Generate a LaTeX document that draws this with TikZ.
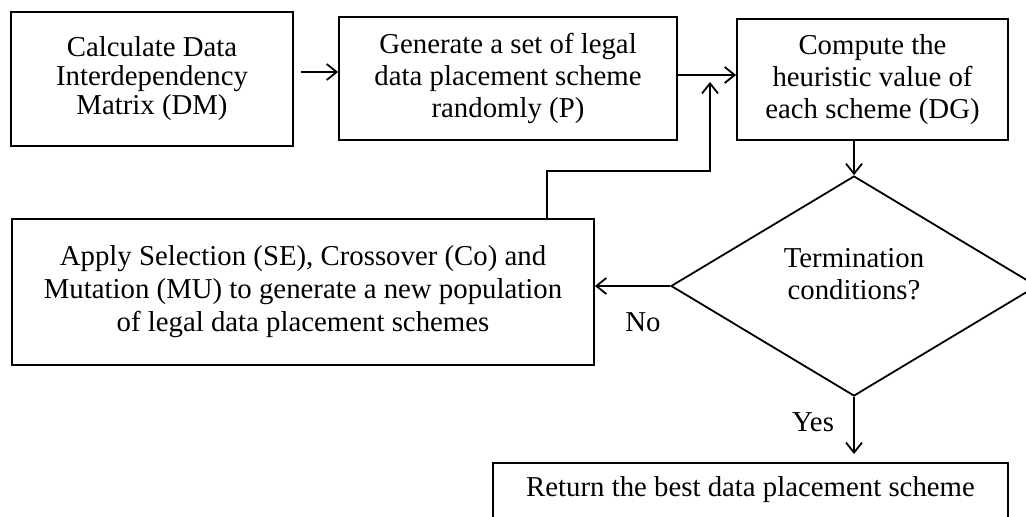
\documentclass[tikz,border=0pt]{standalone}
\usepackage{fontspec}
\setmainfont{Liberation Serif}
\usetikzlibrary{arrows.meta,shapes.geometric}
\begin{document}
\begin{tikzpicture}[x=0.5pt,y=-0.5pt,
  box/.style={draw, line width=0.9pt, align=center, inner sep=0pt,
              font=\fontsize{14.4}{16}\selectfont},
  cond/.style={draw, line width=0.9pt, diamond, inner sep=0pt},
  lbl/.style={font=\fontsize{14.4}{16}\selectfont, inner sep=0pt},
  arr/.style={-{Straight Barb[length=5pt,width=8pt]}, line width=0.9pt}]
\useasboundingbox (0,0) rectangle (1026,516);
\clip (0,0) rectangle (1026,516);

\node[box, minimum width=141pt, minimum height=67pt, font=\fontsize{14.4}{14.5}\selectfont] (b1) at (152,79)
  {Calculate Data\\Interdependency\\Matrix (DM)};
\node[box, minimum width=169pt, minimum height=61.5pt] (b2) at (508,78.5)
  {Generate a set of legal\\data placement scheme\\randomly (P)};
\node[box, minimum width=135.5pt, minimum height=60.5pt] (b3) at (872.5,79.5)
  {Compute the\\heuristic value of\\each scheme (DG)};
\node[box, minimum width=291pt, minimum height=73pt, font=\fontsize{14.4}{16.5}\selectfont] (b4) at (303,292)
  {Apply Selection (SE), Crossover (Co) and\\Mutation (MU) to generate a new population\\of legal data placement schemes};
\node[cond, minimum width=183pt, minimum height=110pt] (d) at (854,286) {};
\node[lbl, align=center] (dt) at (854,274) {Termination\\conditions?};
\node[box, anchor=north, minimum width=257.5pt, text height=12pt, text depth=40pt, inner ysep=5pt] (b5)
  at (750.5,462) {Return the best data placement scheme};

\node[lbl] (no) at (643,322) {No};
\node[lbl] (yes) at (813,422) {Yes};

\coordinate (a1) at ([xshift=3.5pt,yshift=3.5pt]b1.east);
\draw[arr] (a1) -- (a1 -| b2.west);
\coordinate (a2) at ([yshift=1.75pt]b2.east);
\draw[arr] (a2) -- (a2 -| b3.west);
\draw[arr] (d.north |- b3.south) -- (d.north);
\draw[arr] (d.west) -- (d.west -| b4.east);
\draw[arr, shorten >=4pt] (d.south) -- (d.south |- b5.north);
\coordinate (lx) at (547,0);
\coordinate (tip) at (710,82);
\draw[arr] (b4.north -| lx) -- ++(0,-47) -| (tip);
\end{tikzpicture}
\end{document}
